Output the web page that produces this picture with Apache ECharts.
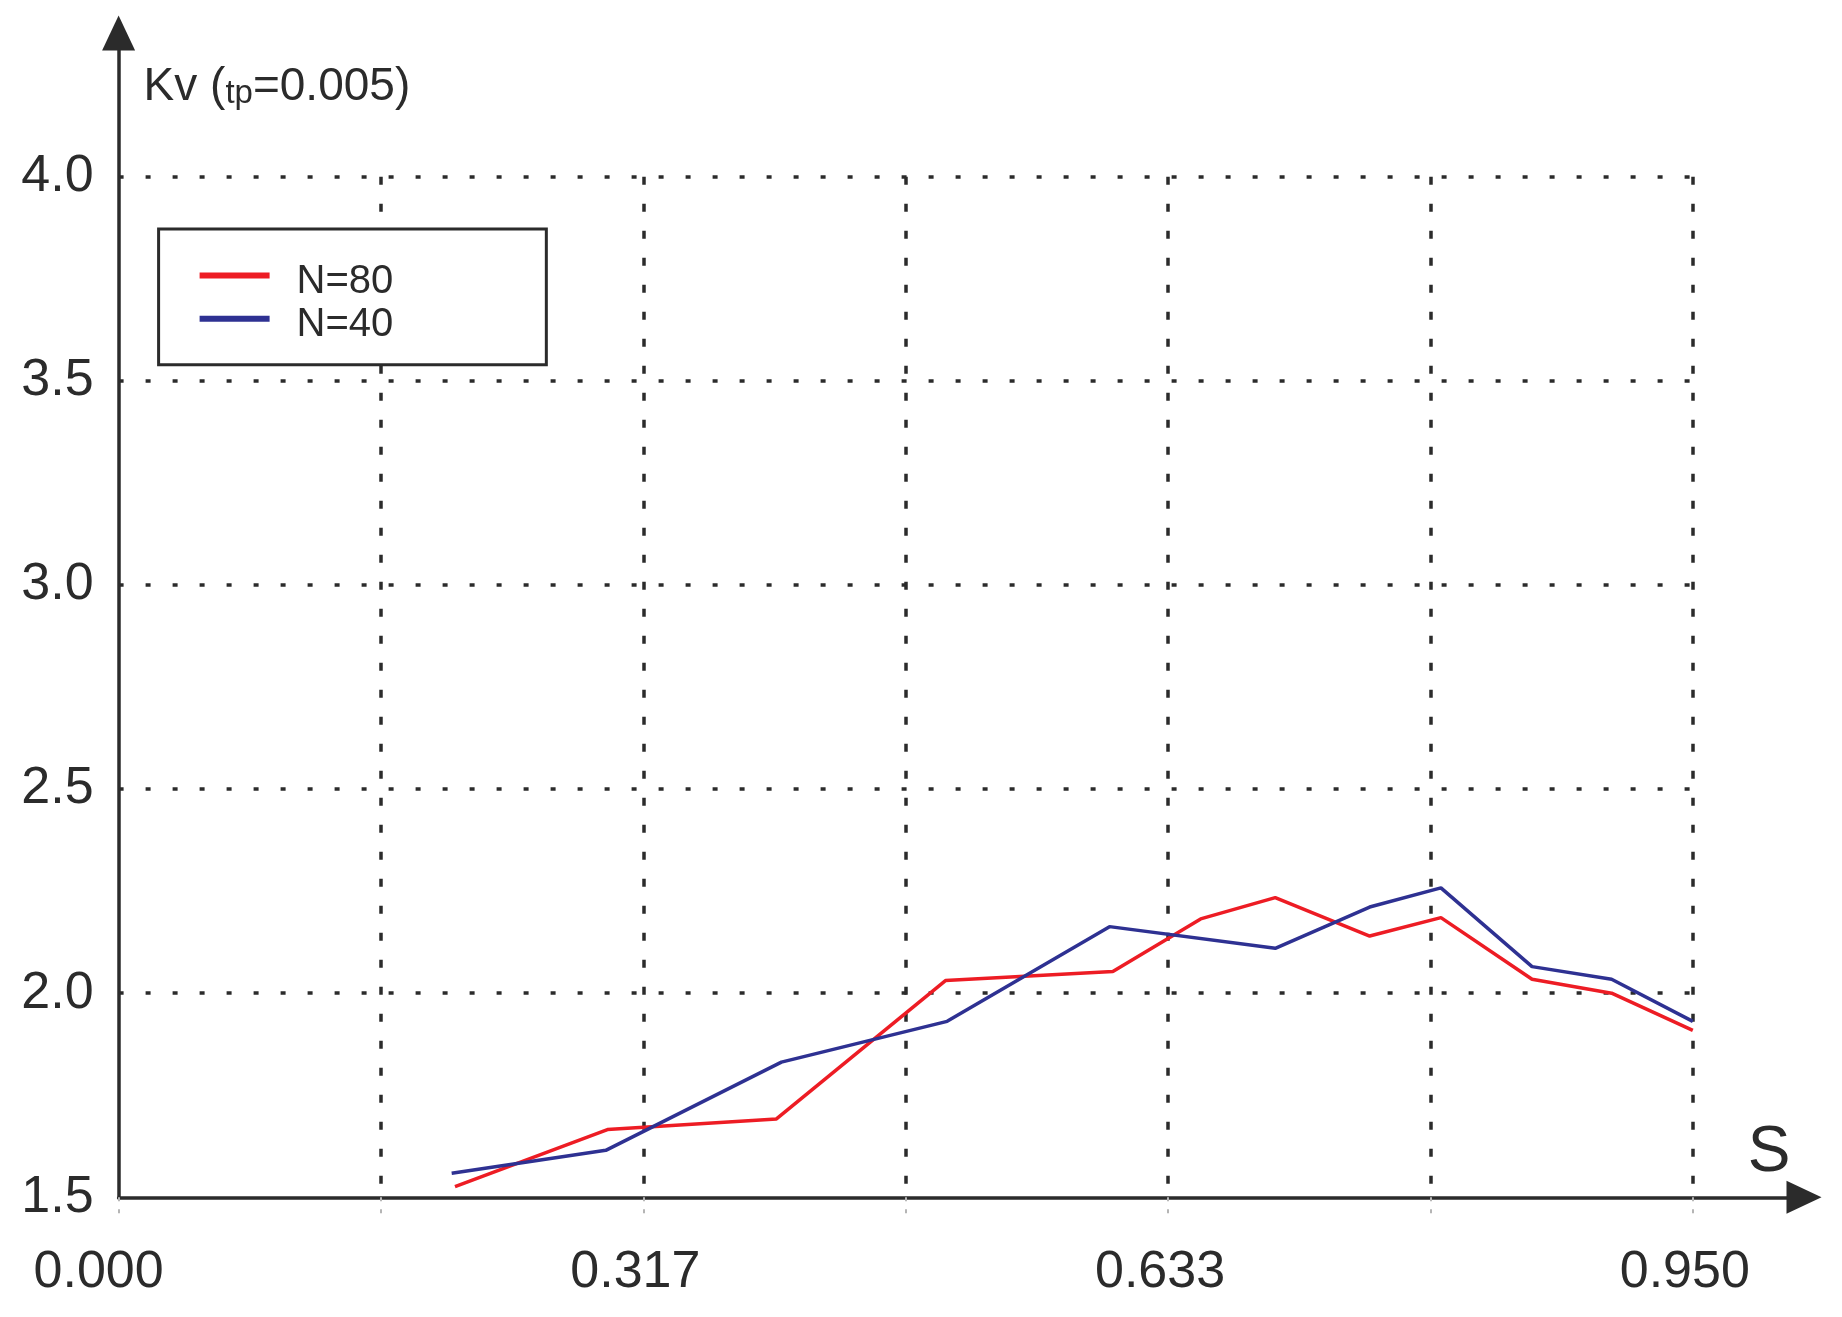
<!DOCTYPE html>
<html>
<head>
<meta charset="utf-8">
<script src="https://cdn.jsdelivr.net/npm/echarts@6/dist/echarts.min.js"></script>
<style>
  html, body { margin: 0; padding: 0; background: #ffffff; }
  #chart { width: 1842px; height: 1317px; }
</style>
</head>
<body>
<div id="chart"></div>
<script>
// ---- data ----
const seriesNames = ['N=80', 'N=40'];
const xRed  = [0.203, 0.295, 0.397, 0.499, 0.600, 0.653, 0.698, 0.755, 0.798, 0.853, 0.901, 0.950];
const yRed  = [1.526, 1.666, 1.692, 2.031, 2.053, 2.182, 2.234, 2.140, 2.185, 2.034, 2.000, 1.909];
const xBlue = [0.201, 0.294, 0.400, 0.500, 0.598, 0.698, 0.755, 0.798, 0.853, 0.901, 0.950];
const yBlue = [1.559, 1.615, 1.831, 1.931, 2.163, 2.110, 2.211, 2.258, 2.065, 2.034, 1.931];
const xTickLabels = ['0.000', '0.317', '0.633', '0.950'];
const yTickLabels = ['1.5', '2.0', '2.5', '3.0', '3.5', '4.0'];
const xMin = 0, xMax = 0.95, xStep = 0.95 / 6;
const yMin = 1.5, yMax = 4.0, yStep = 0.5;

const FONT = "'Liberation Sans', Arial, Helvetica, sans-serif";
const INK = '#2b2b2b';
const RED = '#ed1c24';
const BLUE = '#2e3192';

const chart = echarts.init(document.getElementById('chart'), null, { renderer: 'canvas' });

const option = {
  animation: false,
  backgroundColor: '#ffffff',
  textStyle: { fontFamily: FONT },
  grid: [
    { left: 118.6, top: 176.7, width: 1574.2, height: 1020.6, containLabel: false },
    { left: 118.6, top: 33, width: 1685.4, height: 1164.3, containLabel: false }
  ],
  legend: {
    data: seriesNames,
    orient: 'vertical',
    left: 158.6,
    top: 229,
    icon: 'rect',
    itemWidth: 70,
    itemHeight: 6,
    itemGap: 3.3,
    padding: [32.5, 153, 20, 41],
    borderColor: INK,
    borderWidth: 3,
    backgroundColor: '#ffffff',
    formatter: function (name) { return '{t|' + name + '}'; },
    textStyle: {
      fontFamily: FONT, fontSize: 40, color: INK, padding: [0, 0, 0, 22],
      rich: { t: { fontFamily: FONT, fontSize: 40, color: INK, lineHeight: 52, verticalAlign: 'bottom' } }
    }
  },
  xAxis: [
    {
      type: 'value', gridIndex: 0,
      min: xMin, max: xMax, interval: xStep,
      axisLine: { show: false },
      axisTick: { show: true, length: 16, lineStyle: { color: '#b5b5b5', width: 2, type: [4, 8] } },
      splitLine: { show: true, showMinLine: false,
        lineStyle: { color: INK, width: 3.5, type: [8, 19] } },
      axisLabel: {
        show: true, margin: 49, fontSize: 52, color: INK, fontFamily: FONT,
        padding: [0, 16, 0, 0],
        formatter: function (v, i) {
          if (i % 2 !== 0) return '';
          const t = xTickLabels[i / 2] || '';
          return i === 0 ? '{f|' + t + '}' : t;
        },
        rich: { f: { fontSize: 52, color: INK, fontFamily: FONT, padding: [0, 24, 0, 0] } }
      }
    },
    {
      type: 'value', gridIndex: 1, min: 0, max: 1,
      axisLine: { show: true, onZero: false, symbol: ['none', 'triangle'], symbolSize: [33, 35],
        lineStyle: { color: INK, width: 3.5 } },
      axisTick: { show: false }, axisLabel: { show: false }, splitLine: { show: false },
      name: 'S', nameLocation: 'end', nameGap: -35,
      nameTextStyle: { fontFamily: FONT, fontSize: 64, color: INK, align: 'center', verticalAlign: 'bottom', padding: [0, 0, 12, 0] }
    }
  ],
  yAxis: [
    {
      type: 'value', gridIndex: 0,
      min: yMin, max: yMax, interval: yStep,
      axisLine: { show: false },
      axisTick: { show: false },
      splitLine: { show: true, showMinLine: false,
        lineStyle: { color: INK, width: 3.5, type: [5, 22] } },
      axisLabel: {
        show: true, margin: 25, fontSize: 52, color: INK, fontFamily: FONT,
        formatter: function (v, i) { return yTickLabels[i] || ''; }
      }
    },
    {
      type: 'value', gridIndex: 1, min: 0, max: 1,
      axisLine: { show: true, onZero: false, symbol: ['none', 'triangle'], symbolSize: [33, 35],
        lineStyle: { color: INK, width: 3.5 } },
      axisTick: { show: false }, axisLabel: { show: false }, splitLine: { show: false },
      name: '{a|Kv (}{b|tp}{a|=0.005)}', nameLocation: 'end', nameGap: -27,
      nameTextStyle: {
        align: 'left', verticalAlign: 'top', padding: [0, 0, 0, 25],
        rich: {
          a: { fontFamily: FONT, fontSize: 46, color: INK, verticalAlign: 'bottom', lineHeight: 50 },
          b: { fontFamily: FONT, fontSize: 33, color: INK, verticalAlign: 'bottom', lineHeight: 44 }
        }
      }
    }
  ],
  series: [
    {
      name: seriesNames[0], type: 'line', xAxisIndex: 0, yAxisIndex: 0,
      symbol: 'none', smooth: false,
      lineStyle: { color: RED, width: 3.5 }, itemStyle: { color: RED },
      data: xRed.map(function (x, i) { return [x, yRed[i]]; }),
      z: 3
    },
    {
      name: seriesNames[1], type: 'line', xAxisIndex: 0, yAxisIndex: 0,
      symbol: 'none', smooth: false,
      lineStyle: { color: BLUE, width: 3.5 }, itemStyle: { color: BLUE },
      data: xBlue.map(function (x, i) { return [x, yBlue[i]]; }),
      z: 4
    }
  ]
};

chart.setOption(option);
</script>
</body>
</html>
